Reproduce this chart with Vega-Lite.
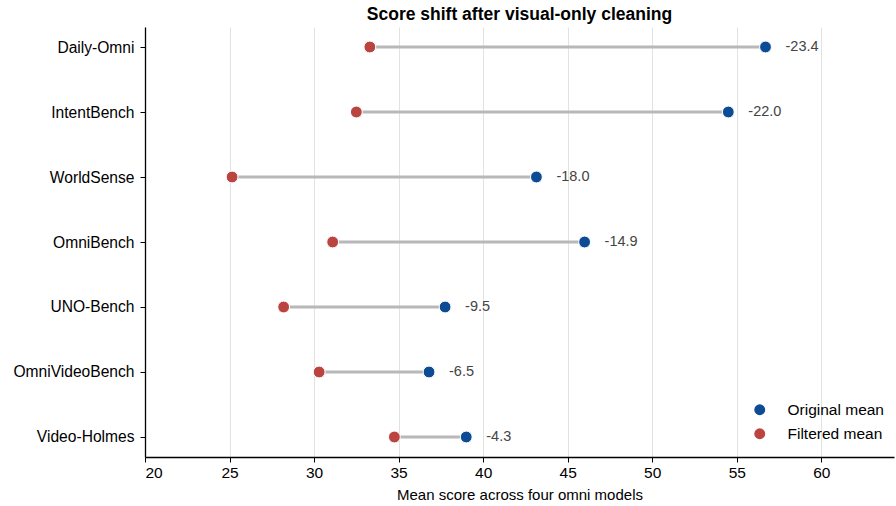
{
  "$schema": "https://vega.github.io/schema/vega-lite/v6.json",
  "width": 749,
  "height": 430,
  "autosize": {"type": "none"},
  "padding": {"left": 145, "top": 27, "right": 2, "bottom": 49},
  "background": "white",
  "config": {
    "font": "Liberation Sans",
    "view": {"stroke": null},
    "axis": {"labelFont": "Liberation Sans", "titleFont": "Liberation Sans"}
  },
  "title": {
    "text": "Score shift after visual-only cleaning",
    "fontSize": 17.5,
    "fontWeight": "bold",
    "color": "#000000",
    "anchor": "middle",
    "offset": 4
  },
  "data": {
    "values": [
      {"benchmark": "Daily-Omni", "original": 56.7, "filtered": 33.3, "delta": "-23.4"},
      {"benchmark": "IntentBench", "original": 54.5, "filtered": 32.5, "delta": "-22.0"},
      {"benchmark": "WorldSense", "original": 43.15, "filtered": 25.15, "delta": "-18.0"},
      {"benchmark": "OmniBench", "original": 46.0, "filtered": 31.1, "delta": "-14.9"},
      {"benchmark": "UNO-Bench", "original": 37.75, "filtered": 28.2, "delta": "-9.5"},
      {"benchmark": "OmniVideoBench", "original": 36.8, "filtered": 30.3, "delta": "-6.5"},
      {"benchmark": "Video-Holmes", "original": 39.0, "filtered": 34.75, "delta": "-4.3"}
    ]
  },
  "encoding": {
    "y": {
      "field": "benchmark",
      "type": "nominal",
      "sort": null,
      "title": null,
      "scale": {"type": "point", "padding": 0.3077},
      "axis": {
        "labelFontSize": 15.6,
        "labelColor": "#000000",
        "domainColor": "#000000",
        "domainWidth": 1.3,
        "tickColor": "#000000",
        "tickSize": 5,
        "labelPadding": 6,
        "grid": false
      }
    }
  },
  "layer": [
    {
      "mark": {"type": "rule", "color": "#b8b8b8", "strokeWidth": 3},
      "encoding": {
        "x": {
          "field": "filtered",
          "type": "quantitative",
          "scale": {"domain": [20, 64.3], "nice": false, "zero": false},
          "title": "Mean score across four omni models",
          "axis": {
            "values": [20, 25, 30, 35, 40, 45, 50, 55, 60],
            "labelFontSize": 15.5,
            "labelColor": "#000000",
            "titleFontSize": 15,
            "titleFontWeight": "normal",
            "titleColor": "#000000",
            "titlePadding": 7,
            "domainColor": "#000000",
            "domainWidth": 1.3,
            "tickColor": "#000000",
            "tickSize": 5,
            "labelPadding": 3,
            "grid": true,
            "gridColor": "#e2e2e2",
            "gridWidth": 1
          }
        },
        "x2": {"field": "original"}
      }
    },
    {
      "transform": [{"fold": ["original", "filtered"], "as": ["series", "score"]}],
      "mark": {"type": "point", "filled": true, "size": 140, "stroke": "white", "strokeWidth": 1, "opacity": 1},
      "encoding": {
        "x": {"field": "score", "type": "quantitative"},
        "color": {
          "field": "series",
          "type": "nominal",
          "scale": {"domain": ["original", "filtered"], "range": ["#0d4c94", "#bb4340"]},
          "legend": {
            "title": null,
            "orient": "none",
            "legendX": 607,
            "legendY": 375,
            "labelExpr": "datum.label == 'original' ? 'Original mean' : 'Filtered mean'",
            "labelFontSize": 15.5,
            "labelColor": "#000000",
            "symbolType": "circle",
            "symbolSize": 120,
            "symbolStrokeWidth": 0,
            "labelOffset": 20,
            "rowPadding": 7
          }
        }
      }
    },
    {
      "mark": {"type": "text", "align": "left", "baseline": "middle", "dx": 20, "fontSize": 14.5, "color": "#444444"},
      "encoding": {
        "x": {"field": "original", "type": "quantitative"},
        "text": {"field": "delta", "type": "nominal"}
      }
    }
  ]
}
